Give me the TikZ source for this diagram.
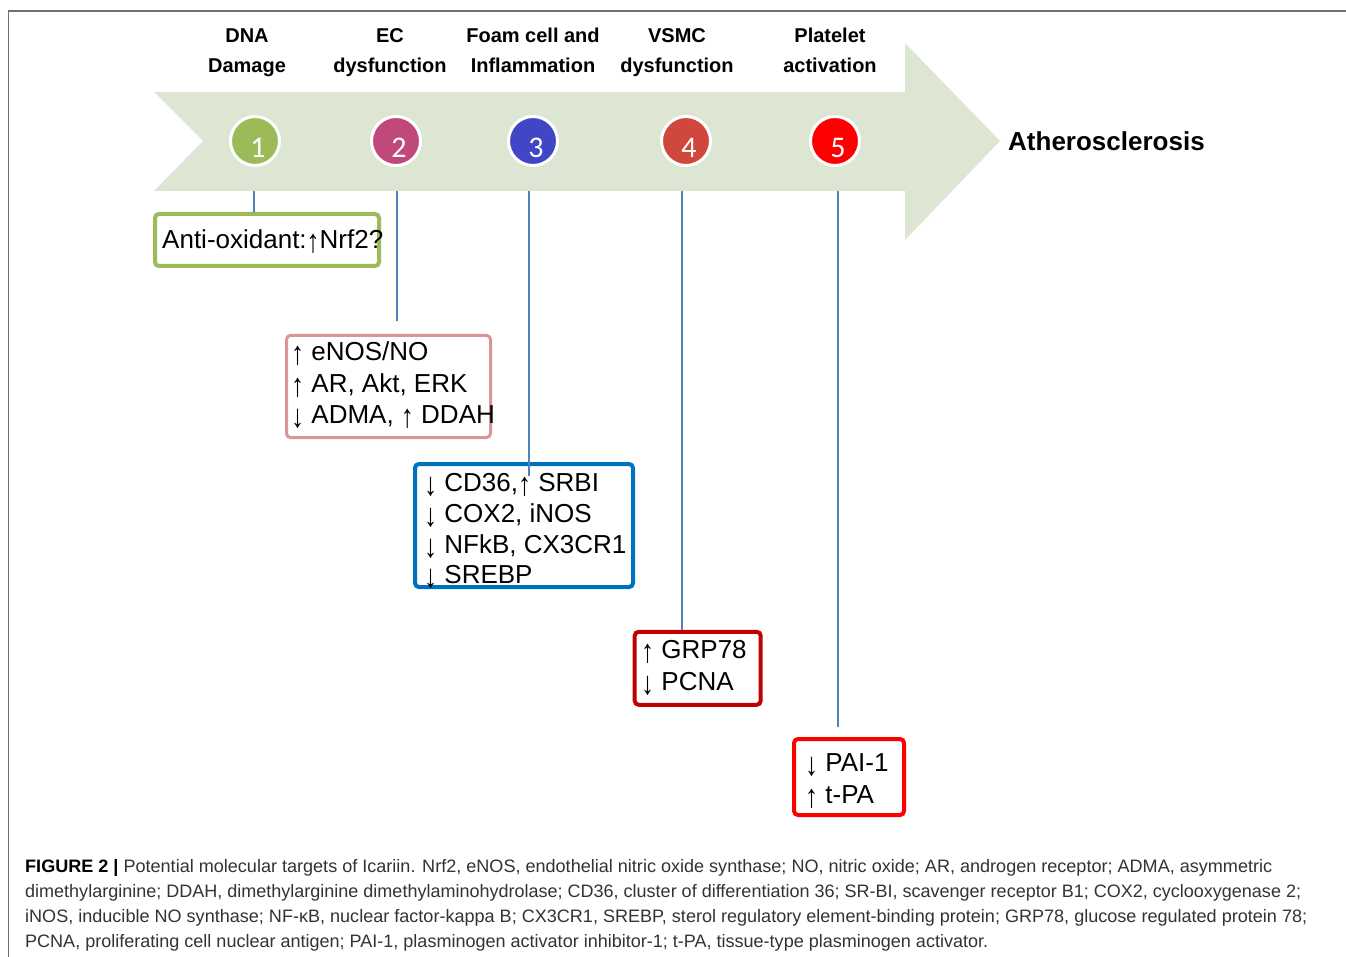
\documentclass[tikz,border=0pt]{standalone}
\usepackage{fontspec}
\setmainfont{Liberation Sans}
\newfontfamily\numfont{Carlito}
\usepackage{graphicx}
\newcommand\uarr{\raisebox{-4pt}{\scalebox{1}[1.25]{↑}}}
\newcommand\darr{\raisebox{-4pt}{\scalebox{1}[1.25]{↓}}}
\definecolor{arrowfill}{HTML}{DDE6D3}
\definecolor{framegray}{HTML}{707070}
\definecolor{linkblue}{HTML}{4F81BD}
\definecolor{capgray}{HTML}{333333}
\definecolor{cone}{HTML}{9BBB59}
\definecolor{ctwo}{HTML}{C0487A}
\definecolor{cthree}{HTML}{4046C6}
\definecolor{cfour}{HTML}{D0473E}
\definecolor{cfive}{HTML}{FF0000}
\definecolor{bone}{HTML}{9BBB59}
\definecolor{btwo}{HTML}{D99694}
\definecolor{bthree}{HTML}{0070C0}
\definecolor{bfour}{HTML}{C00000}
\definecolor{bfive}{HTML}{FF0000}
\begin{document}
\begin{tikzpicture}[x=1pt,y=-1pt,
  hdr/.style={font=\fontsize{20}{24}\selectfont\bfseries, anchor=base, inner sep=0pt},
  circ/.style={circle, draw=white, line width=3pt, minimum size=49pt, inner sep=0pt},
  num/.style={font=\numfont\fontsize{30}{32}\selectfont, text=white, anchor=base, inner sep=0pt},
  conn/.style={draw=linkblue, line width=1.3pt},
  tbox/.style={draw, line width=4pt, rounded corners=4pt, inner sep=0pt, fill=none},
  txt/.style={font=\fontsize{26}{30}\selectfont, anchor=base west, inner sep=0pt},
  captext/.style={font=\fontsize{18}{22}\selectfont, text=capgray, anchor=base west, inner sep=0pt}]

\useasboundingbox (0,0) rectangle (1346,957);
\fill[white] (0,0) rectangle (1346,957);
\draw[framegray, line width=1.5pt] (8.5,957) -- (8.5,11) -- (1346,11);

% big arrow
\fill[arrowfill] (154,92) -- (905,92) -- (905,43) -- (1000,141) -- (905,240)
  -- (905,191) -- (154,191) -- (203,141) -- cycle;

% headers
\node[hdr] (h1a) at (247,43) {DNA};
\node[hdr] (h1b) at (247,73) {Damage};
\node[hdr] (h2a) at (390,43) {EC};
\node[hdr] (h2b) at (390,73) {dysfunction};
\node[hdr] (h3a) at (533,43) {Foam cell and};
\node[hdr] (h3b) at (533,73) {Inflammation};
\node[hdr] (h4a) at (677,43) {VSMC};
\node[hdr] (h4b) at (677,73) {dysfunction};
\node[hdr] (h5a) at (830,43) {Platelet};
\node[hdr] (h5b) at (830,73) {activation};

\node[font=\fontsize{26}{30}\selectfont\bfseries, anchor=base west, inner sep=0pt] (ath) at (1008,151) {Atherosclerosis};

% circles
\node[circ, fill=cone]   (c1) at (255,141) {};
\node[circ, fill=ctwo]   (c2) at (396,141) {};
\node[circ, fill=cthree] (c3) at (533,141) {};
\node[circ, fill=cfour]  (c4) at (686,141) {};
\node[circ, fill=cfive]  (c5) at (835,141) {};
\node[num] (n1) at (258,158) {1};
\node[num] (n2) at (399,158) {2};
\node[num] (n3) at (536,158) {3};
\node[num] (n4) at (689,158) {4};
\node[num] (n5) at (838,158) {5};

% boxes
\node[tbox, draw=bone,   minimum width=224pt, minimum height=52pt]  (b1) at (267,240) {};
\node[tbox, draw=btwo, line width=3pt, minimum width=204pt, minimum height=102pt] (b2) at (388.5,386.5) {};
\node[tbox, draw=bthree, minimum width=218pt, minimum height=123pt] (b3) at (524,525.5) {};
\node[tbox, draw=bfour,  minimum width=126pt, minimum height=73pt]  (b4) at (697.7,668.3) {};
\node[tbox, draw=bfive,  minimum width=110pt, minimum height=76pt]  (b5) at (849,777) {};

% connectors
\coordinate (s1) at (254,191);
\coordinate (s2) at (397,191);
\coordinate (s3) at (529,191);
\coordinate (s4) at (682,191);
\coordinate (s5) at (838,191);
\coordinate (e2) at (397,321);
\coordinate (e3) at (529,476);
\coordinate (e5) at (838,727);
\draw[conn] (s1) -- (s1 |- b1.north);
\draw[conn] (s2) -- (e2);
\draw[conn] (s3) -- (e3);
\draw[conn] (s4) -- (s4 |- b4.north);
\draw[conn] (s5) -- (e5);

% box texts
\node[txt] (t11) at (162,248.5) {Anti-oxidant:\uarr Nrf2?};

\node[txt] (t21) at (291,360.5) {\uarr\ eNOS/NO};
\node[txt] (t22) at (291,392.5) {\uarr\ AR, Akt, ERK};
\node[txt] (t23) at (291,423) {\darr\ ADMA, \uarr\ DDAH};

\node[txt] (t31) at (424,491.5) {\darr\ CD36,\uarr\ SRBI};
\node[txt] (t32) at (424,522) {\darr\ COX2, iNOS};
\node[txt] (t33) at (424,553) {\darr\ NFkB, CX3CR1};
\node[txt] (t34) at (424,583) {\darr\ SREBP};

\node[txt] (t41) at (641,658) {\uarr\ GRP78};
\node[txt] (t42) at (641,690.5) {\darr\ PCNA};

\node[txt] (t51) at (805,771.5) {\darr\ PAI-1};
\node[txt] (t52) at (805,803) {\uarr\ t-PA};

% caption
\node[captext] (cap1) at (25,872) {\resizebox{1247pt}{\height}{\textcolor{black}{\bfseries FIGURE 2 |} Potential molecular targets of Icariin. Nrf2, eNOS, endothelial nitric oxide synthase; NO, nitric oxide; AR, androgen receptor; ADMA, asymmetric}};
\node[captext] (cap2) at (25,897) {\resizebox{1276pt}{\height}{dimethylarginine; DDAH, dimethylarginine dimethylaminohydrolase; CD36, cluster of differentiation 36; SR-BI, scavenger receptor B1; COX2, cyclooxygenase 2;}};
\node[captext] (cap3) at (25,922) {\resizebox{1282pt}{\height}{iNOS, inducible NO synthase; NF-κB, nuclear factor-kappa B; CX3CR1, SREBP, sterol regulatory element-binding protein; GRP78, glucose regulated protein 78;}};
\node[captext] (cap4) at (25,947) {\resizebox{963pt}{\height}{PCNA, proliferating cell nuclear antigen; PAI-1, plasminogen activator inhibitor-1; t-PA, tissue-type plasminogen activator.}};
\end{tikzpicture}
\end{document}
